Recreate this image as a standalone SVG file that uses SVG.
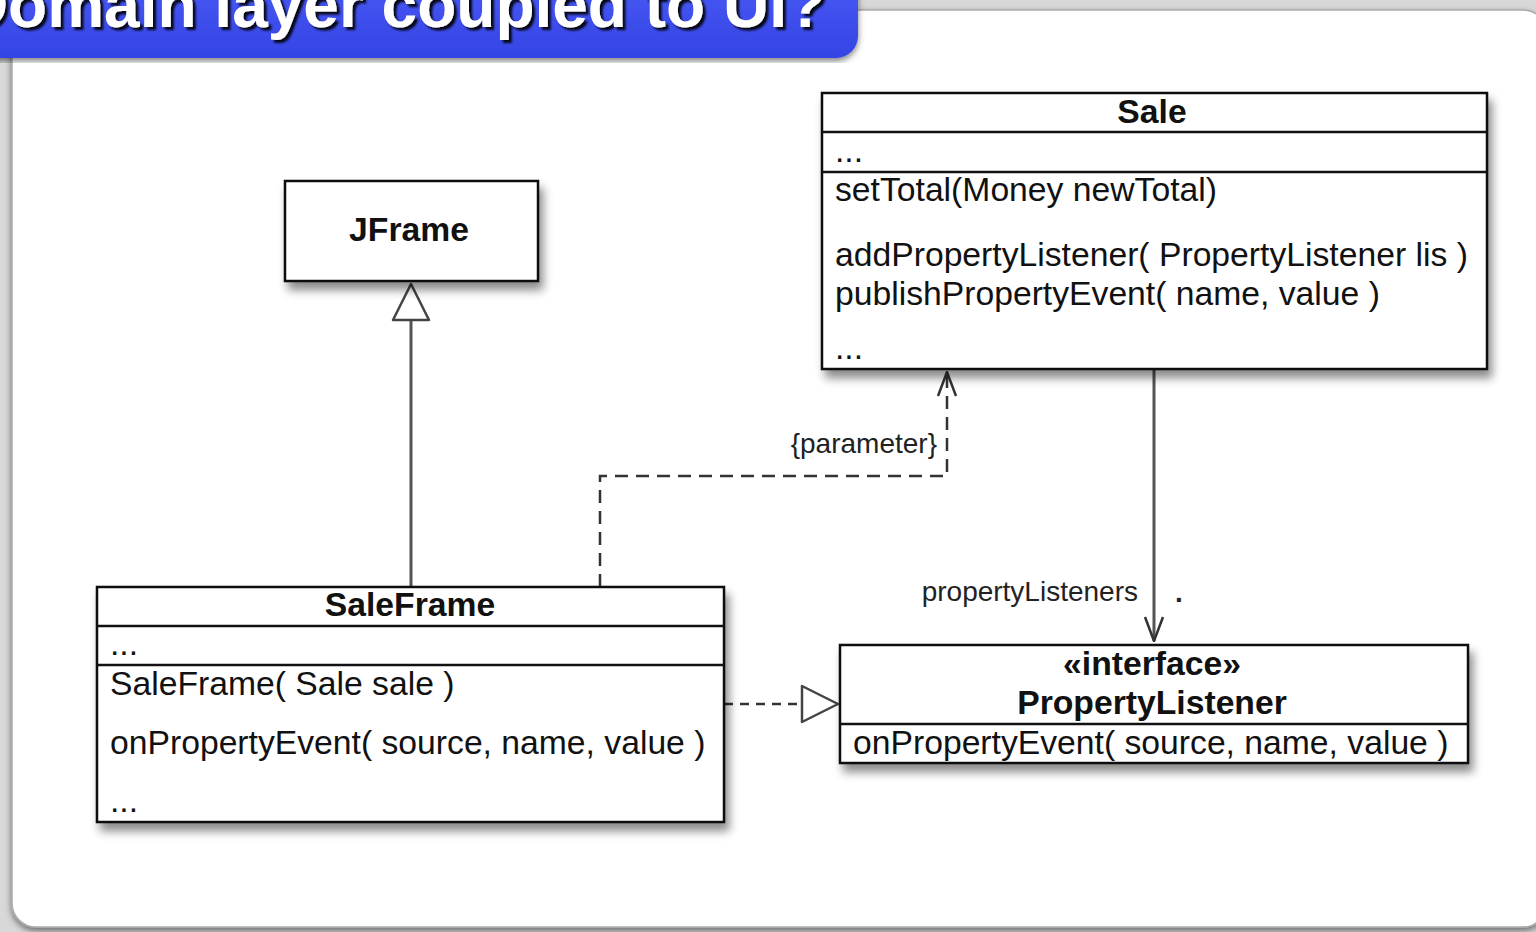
<svg xmlns="http://www.w3.org/2000/svg" width="1536" height="932" viewBox="0 0 1536 932">
<defs>
<style>
.box{fill:#fff;stroke:#111;stroke-width:2.5}
.div{stroke:#111;stroke-width:2.5}
.t{font-family:"Liberation Sans",Arial,sans-serif;font-size:33.7px;fill:#111}
.b{font-weight:bold}
.lbl{font-family:"Liberation Sans",Arial,sans-serif;font-size:28px;fill:#222}
.solid{fill:none;stroke:#555;stroke-width:3}
.dash{fill:none;stroke:#333;stroke-width:2.5;stroke-dasharray:13 8}
.dash2{fill:none;stroke:#333;stroke-width:2.5;stroke-dasharray:9 7}
</style>
<filter id="sh" x="-10%" y="-15%" width="125%" height="140%">
<feDropShadow dx="4" dy="8" stdDeviation="5" flood-color="#000" flood-opacity="0.45"/>
</filter>
<filter id="psh" x="-5%" y="-5%" width="110%" height="110%">
<feDropShadow dx="0" dy="3" stdDeviation="3" flood-color="#000" flood-opacity="0.5"/>
</filter>
<filter id="tsh" x="-5%" y="-20%" width="110%" height="150%">
<feDropShadow dx="3" dy="3" stdDeviation="1" flood-color="#000" flood-opacity="0.9"/>
</filter>
<linearGradient id="blue" x1="0" y1="0" x2="0" y2="1">
<stop offset="0" stop-color="#4b5cf7"/>
<stop offset="1" stop-color="#3444e4"/>
</linearGradient>
<marker id="tri" viewBox="0 0 40 40" refX="38" refY="20" markerWidth="40" markerHeight="40" orient="auto" markerUnits="userSpaceOnUse">
<path d="M2,2 L38,20 L2,38 Z" fill="#fff" stroke="#444" stroke-width="2.5" stroke-linejoin="round"/>
</marker>
<marker id="open" viewBox="0 0 26 22" refX="25" refY="11" markerWidth="26" markerHeight="22" orient="auto" markerUnits="userSpaceOnUse">
<path d="M1,2 L25,11 L1,20" fill="none" stroke="#333" stroke-width="2.5"/>
</marker>
</defs>

<rect x="0" y="0" width="1536" height="932" fill="#d8d8d8"/>
<rect x="12" y="10" width="1535" height="917" rx="24" fill="#fff" stroke="#aaa" stroke-width="1.5" filter="url(#psh)"/>

<g id="title">
<rect x="-30" y="-30" width="888" height="88" rx="22" fill="url(#blue)" filter="url(#psh)"/>
<text x="826" y="27" text-anchor="end" font-family="'Liberation Sans',Arial,sans-serif" font-weight="bold" font-size="64" fill="#fff" filter="url(#tsh)">Domain layer coupled to UI?</text>
</g>

<g id="connectors">
<path class="solid" d="M411,587 V284" marker-end="url(#tri)"/>
<path class="dash" d="M600,587 V476 H947 V372" marker-end="url(#open)"/>
<text class="lbl" x="937" y="453" text-anchor="end">{parameter}</text>
<path class="dash2" d="M724,704 H838" marker-end="url(#tri)"/>
<path class="solid" d="M1154,369 V641" marker-end="url(#open)"/>
<text class="lbl" x="1138" y="601" text-anchor="end">propertyListeners</text>
<text class="lbl b" x="1175" y="602">.</text>
</g>

<g id="JFrame">
<rect class="box" x="285" y="181" width="253" height="100" filter="url(#sh)"/>
<text class="t b" x="409" y="241" text-anchor="middle">JFrame</text>
</g>

<g id="Sale">
<rect class="box" x="822" y="93" width="665" height="276" filter="url(#sh)"/>
<line class="div" x1="822" y1="132" x2="1487" y2="132"/>
<line class="div" x1="822" y1="172" x2="1487" y2="172"/>
<text class="t b" x="1152" y="123" text-anchor="middle">Sale</text>
<text class="t" x="835" y="162">...</text>
<text class="t" x="835" y="201">setTotal(Money newTotal)</text>
<text class="t" x="835" y="266">addPropertyListener( PropertyListener lis )</text>
<text class="t" x="835" y="305">publishPropertyEvent( name, value )</text>
<text class="t" x="835" y="359">...</text>
</g>

<g id="SaleFrame">
<rect class="box" x="97" y="587" width="627" height="235" filter="url(#sh)"/>
<line class="div" x1="97" y1="626" x2="724" y2="626"/>
<line class="div" x1="97" y1="665" x2="724" y2="665"/>
<text class="t b" x="410" y="616" text-anchor="middle">SaleFrame</text>
<text class="t" x="110" y="655">...</text>
<text class="t" x="110" y="695">SaleFrame( Sale sale )</text>
<text class="t" x="110" y="754">onPropertyEvent( source, name, value )</text>
<text class="t" x="110" y="812">...</text>
</g>

<g id="PropertyListener">
<rect class="box" x="840" y="645" width="628" height="118" filter="url(#sh)"/>
<line class="div" x1="840" y1="724" x2="1468" y2="724"/>
<text class="t b" x="1152" y="675" text-anchor="middle">«interface»</text>
<text class="t b" x="1152" y="714" text-anchor="middle">PropertyListener</text>
<text class="t" x="853" y="754">onPropertyEvent( source, name, value )</text>
</g>
</svg>
